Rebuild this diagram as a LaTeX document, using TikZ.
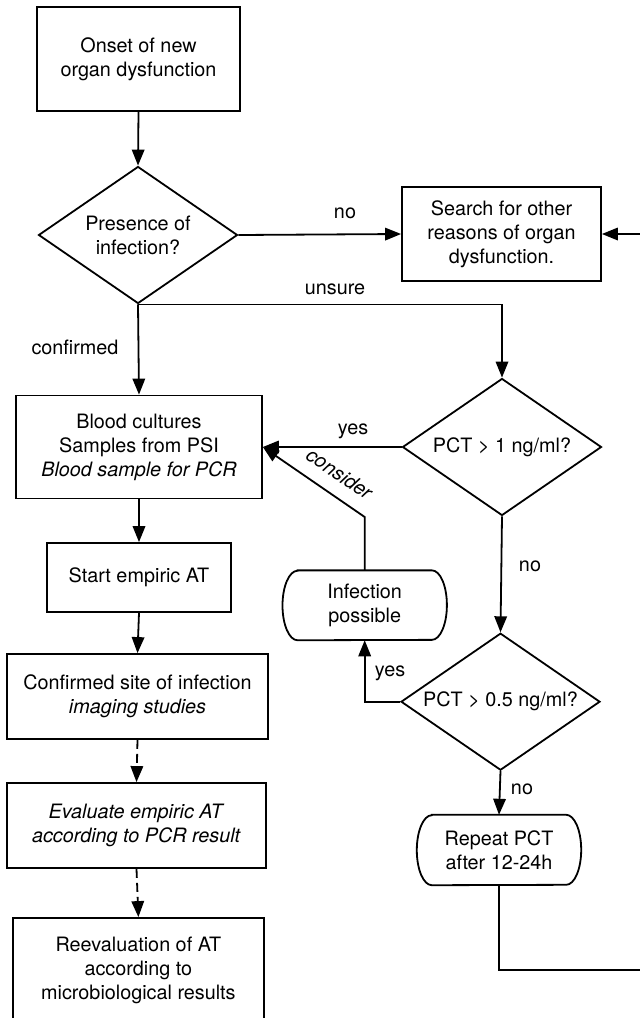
\documentclass[tikz,border=0pt]{standalone}
\usepackage{fontspec}
\setmainfont{TeX Gyre Heros}
\usetikzlibrary{shapes.geometric,arrows.meta,calc}
\newcommand{\drawcapsule}[2]{%
  \draw[line] ([xshift=15pt]#1.north west) -- ([xshift=-15pt]#1.north east)
    arc[start angle=90,end angle=-90,x radius=15pt,y radius=#2]
    -- ([xshift=15pt]#1.south west)
    arc[start angle=270,end angle=90,x radius=15pt,y radius=#2] -- cycle;}
\begin{document}
\begin{tikzpicture}[x=1pt,y=-1pt,
  every node/.style={font=\fontsize{19.8}{24}\selectfont},
  line/.style={line width=1.8pt,black},
  box/.style={draw,line width=1.8pt,rectangle,align=center,inner sep=0pt},
  dia/.style={draw,line width=1.8pt,diamond,aspect=1.45,align=center,inner sep=0pt,minimum width=199pt,minimum height=137pt},
  capsulebox/.style={rectangle,align=center,inner sep=0pt},
  arr/.style={line,-{Triangle[length=16pt,width=12.5pt]}},
  darr/.style={arr,dash pattern=on 9pt off 5pt},
  lbl/.style={inner sep=0pt}]
\useasboundingbox (0,0) rectangle (640,1018);
% nodes
\node[box,minimum width=203pt,minimum height=104pt] (onset) at (138.5,59) {Onset of new\\organ dysfunction};
\node[dia] (d1) at (138,235) {Presence of\\infection?};
\node[box,minimum width=199pt,minimum height=94pt] (search) at (501.5,234) {Search for other\\reasons of organ\\dysfunction.};
\node[dia] (d2) at (502,447) {PCT > 1 ng/ml?};
\node[box,minimum width=246pt,minimum height=103pt] (blood) at (139,447) {Blood cultures\\Samples from PSI\\\textit{Blood sample for PCR}};
\node[box,minimum width=184pt,minimum height=69pt] (start) at (139,577.5) {Start empiric AT};
\node[box,minimum width=261pt,minimum height=85pt] (conf) at (137.5,696.5) {Confirmed site of infection\\\textit{imaging studies}};
\node[box,minimum width=259pt,minimum height=85pt] (eval) at (136.5,825.5) {\textit{Evaluate empiric AT}\\\textit{according to PCR result}};
\node[box,minimum width=251pt,minimum height=104pt] (reeval) at (138.4,970) {Reevaluation of AT\\according to\\microbiological results};
\node[capsulebox,minimum width=164pt,minimum height=69.5pt] (infp) at (364.7,605.3) {Infection\\possible};
\drawcapsule{infp}{34.75pt}
\node[dia] (d3) at (500.5,701.7) {PCT > 0.5 ng/ml?};
\node[capsulebox,minimum width=164pt,minimum height=70pt] (repeat) at (499,850) {Repeat PCT\\after 12-24h};
\drawcapsule{repeat}{35pt}
% coordinates
\coordinate (cbend) at (364.7,517);
\coordinate (rb1) at (499,970);
\coordinate (rb2) at (645,970);
\coordinate (rb3) at (645,234);
% connectors
\draw[arr] (onset.south) -- (d1.north);
\draw[arr] (d1.east) -- (search.west);
\draw[arr] (d1.south) -- (blood.north);
\draw[arr] (d1.south) -| (d2.north);
\draw[arr] (d2.west) -- (blood.east);
\draw[arr] (infp.north) -- (cbend) -- (blood.east);
\draw[arr] (blood.south) -- (start.north);
\draw[arr] (start.south) -- (conf.north);
\draw[darr] (conf.south) -- (eval.north);
\draw[darr] (eval.south) -- (reeval.north);
\draw[arr] (d2.south) -- (d3.north);
\draw[arr] (d3.west) -| (infp.south);
\draw[arr] (d3.south) -- (repeat.north);
\draw[arr] (repeat.south) -- (rb1) -- (rb2) -- (rb3) -- (search.east);
% labels
\node[lbl] (lno1) at (345,213) {no};
\node[lbl] (lunsure) at (335,289) {unsure};
\node[lbl] (lconf) at (75,347) {confirmed};
\node[lbl] (lyes1) at (353,431) {yes};
\node[lbl,rotate=-34.5] (lcons) at (340,474) {\textit{consider}};
\node[lbl] (lno2) at (530,566) {no};
\node[lbl] (lyes2) at (390,673) {yes};
\node[lbl] (lno3) at (522,789) {no};
\end{tikzpicture}
\end{document}
